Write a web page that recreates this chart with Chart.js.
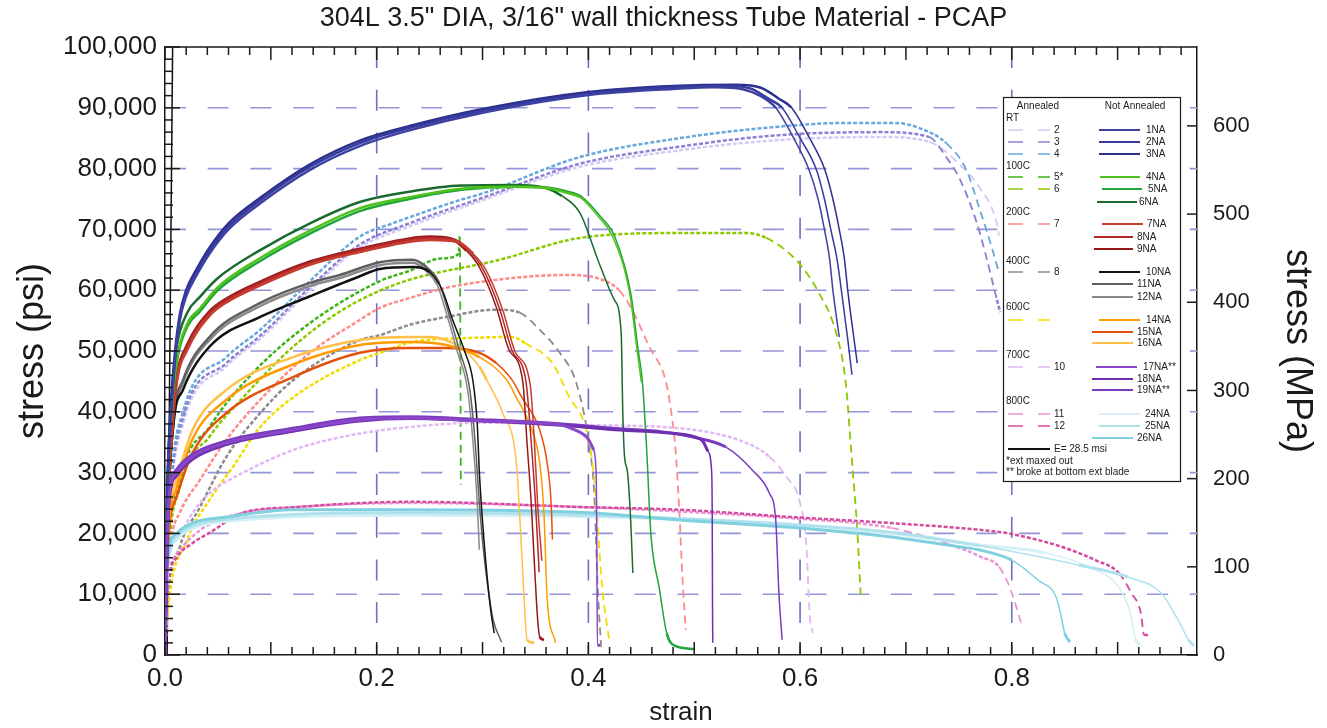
<!DOCTYPE html>
<html>
<head>
<meta charset="utf-8">
<title>304L tube material - PCAP</title>
<script src="https://cdn.jsdelivr.net/npm/chart.js@4.4.1/dist/chart.umd.min.js"></script>
<style>
  html, body { margin: 0; padding: 0; background: #fff; }
  canvas { display: block; }
</style>
</head>
<body>
<canvas id="grafico" width="1327" height="728"></canvas>
<script>
// textos
const chartTitle = '304L 3.5" DIA, 3/16" wall thickness Tube Material - PCAP';
const groupNames = ['RT', '100C', '200C', '400C', '600C', '700C', '800C'];
const noteLines = ['*ext maxed out', '** broke at bottom ext blade'];
const modulusLabel = 'E= 28.5 msi';

// curvas: deformacion (in/in) y esfuerzo (psi)
// --- not annealed ---
const strain1NA = [0, 0.002, 0.005, 0.009, 0.014, 0.02, 0.03, 0.042, 0.06, 0.09, 0.137, 0.184, 0.231, 0.3, 0.4, 0.48, 0.52, 0.545, 0.562, 0.577, 0.594, 0.608, 0.617, 0.623, 0.628, 0.631, 0.637];
const stress1NA = [0, 24000, 37000, 47500, 55000, 59000, 62500, 66000, 70000, 74300, 79800, 83700, 86300, 89200, 92100, 93100, 93400, 93100, 92000, 90000, 85000, 80000, 75000, 70000, 65000, 60000, 52300];
const strain2NA = [0, 0.002, 0.005, 0.009, 0.014, 0.02, 0.03, 0.042, 0.06, 0.09, 0.137, 0.184, 0.231, 0.3, 0.4, 0.48, 0.53, 0.553, 0.57, 0.583, 0.6, 0.615, 0.623, 0.629, 0.635, 0.639, 0.645, 0.649];
const stress2NA = [0, 25000, 38000, 48000, 55500, 59500, 63000, 66500, 70500, 74800, 80300, 84200, 86700, 89500, 92300, 93400, 93600, 93200, 91500, 90000, 85000, 80000, 75000, 70000, 65000, 60000, 52000, 46100];
const strain3NA = [0, 0.002, 0.005, 0.009, 0.014, 0.02, 0.03, 0.042, 0.06, 0.09, 0.137, 0.184, 0.231, 0.3, 0.4, 0.48, 0.54, 0.563, 0.58, 0.592, 0.609, 0.623, 0.631, 0.637, 0.642, 0.645, 0.654];
const stress3NA = [0, 26000, 39000, 49000, 56000, 60000, 63500, 67000, 71000, 75200, 80700, 84600, 87000, 89800, 92600, 93600, 93800, 93300, 91500, 90000, 85000, 80000, 75000, 70000, 65000, 60000, 48000];

const strain4NA = [0, 0.002, 0.006, 0.011, 0.021, 0.033, 0.05, 0.09, 0.137, 0.184, 0.231, 0.28, 0.33, 0.36, 0.38, 0.392, 0.41, 0.423, 0.439, 0.446, 0.45];
const stress4NA = [0, 24000, 40000, 48500, 54500, 57000, 60500, 65300, 69800, 73500, 75300, 76700, 77000, 76800, 76000, 75300, 72000, 68800, 59500, 50200, 44900];
const strain5NA = [0, 0.002, 0.006, 0.011, 0.021, 0.033, 0.05, 0.09, 0.137, 0.184, 0.231, 0.28, 0.33, 0.36, 0.38, 0.394, 0.412, 0.425, 0.44, 0.447, 0.451, 0.455, 0.459, 0.467, 0.474, 0.482, 0.5];
const stress5NA = [0, 23500, 39500, 48000, 54000, 56500, 60000, 64800, 69300, 73000, 75000, 76500, 77000, 76900, 76200, 75300, 72000, 68800, 59500, 50200, 45000, 34000, 20000, 11000, 3600, 1500, 1000];
const strain6NA = [0, 0.002, 0.006, 0.011, 0.021, 0.033, 0.05, 0.09, 0.137, 0.184, 0.231, 0.28, 0.33, 0.36, 0.375, 0.392, 0.41, 0.4245, 0.431, 0.4325, 0.434, 0.437, 0.44, 0.442];
const stress6NA = [0, 25000, 42400, 50700, 56300, 58900, 62000, 66600, 71000, 74500, 76200, 77200, 77300, 76800, 75500, 72700, 64500, 58400, 53000, 40000, 33000, 30000, 22000, 13500];

const strain7NA = [0, 0.002, 0.0066, 0.011, 0.021, 0.042, 0.058, 0.09, 0.137, 0.184, 0.231, 0.25, 0.276, 0.291, 0.303, 0.319, 0.331, 0.345, 0.349, 0.352, 0.356];
const stress7NA = [0, 20000, 36500, 44800, 50200, 55800, 58000, 60800, 64200, 66300, 68000, 68300, 68000, 66000, 63400, 56800, 49800, 44500, 35000, 25000, 15500];
const strain8NA = [0, 0.002, 0.0066, 0.011, 0.021, 0.042, 0.058, 0.09, 0.137, 0.184, 0.231, 0.25, 0.273, 0.288, 0.3, 0.316, 0.328, 0.341, 0.346, 0.35, 0.3535];
const stress8NA = [0, 20500, 37000, 45200, 50700, 56300, 58400, 61200, 64500, 66600, 68300, 68600, 68300, 66300, 63600, 57000, 50000, 45000, 35000, 25000, 13600];
const strain9NA = [0, 0.002, 0.0066, 0.011, 0.021, 0.042, 0.058, 0.09, 0.137, 0.184, 0.231, 0.25, 0.27, 0.285, 0.297, 0.313, 0.325, 0.338, 0.342, 0.346, 0.349, 0.352, 0.354, 0.358];
const stress9NA = [0, 21000, 37500, 45500, 51000, 56500, 58600, 61400, 64700, 66800, 68500, 68800, 68500, 66500, 63800, 57200, 50200, 45000, 35000, 25000, 15000, 6000, 3000, 2500];

const strain10NA = [0, 0.002, 0.008, 0.017, 0.042, 0.09, 0.137, 0.184, 0.203, 0.234, 0.25, 0.262, 0.272, 0.283, 0.291, 0.295, 0.297, 0.3, 0.304, 0.308, 0.311];
const stress10NA = [0, 20000, 38000, 43600, 50700, 55600, 59000, 62300, 63500, 63800, 63000, 60000, 55000, 50000, 45000, 38000, 30000, 22000, 13500, 7000, 3600];
const strain11NA = [0, 0.002, 0.008, 0.017, 0.042, 0.09, 0.137, 0.165, 0.203, 0.234, 0.25, 0.259, 0.269, 0.278, 0.288, 0.293, 0.297, 0.301, 0.306, 0.31, 0.318];
const stress11NA = [0, 20000, 38700, 45200, 52300, 57900, 61200, 62500, 64600, 65000, 63300, 61200, 55600, 50200, 43600, 35000, 25000, 17000, 10000, 5800, 2100];
const strain12NA = [0, 0.002, 0.008, 0.017, 0.042, 0.09, 0.137, 0.165, 0.203, 0.234, 0.248, 0.257, 0.267, 0.276, 0.286, 0.291, 0.295, 0.297];
const stress12NA = [0, 19500, 38000, 44700, 51800, 57400, 60700, 62000, 64100, 64500, 63000, 61000, 55500, 50000, 43500, 35000, 25000, 17300];

const strain14NA = [0, 0.002, 0.011, 0.026, 0.058, 0.121, 0.184, 0.231, 0.266, 0.297, 0.323, 0.333, 0.344, 0.354, 0.358, 0.361, 0.369];
const stress14NA = [0, 17000, 27500, 35500, 42000, 47800, 51000, 51500, 51000, 49000, 45200, 42000, 38200, 31600, 23400, 9500, 2000];
const strain15NA = [0, 0.002, 0.011, 0.026, 0.058, 0.121, 0.184, 0.231, 0.266, 0.297, 0.313, 0.328, 0.337, 0.354, 0.361, 0.365, 0.366];
const stress15NA = [0, 16000, 26000, 33200, 39800, 45700, 49700, 50500, 50500, 49700, 48000, 45200, 42400, 37000, 31600, 24300, 19000];
const strain16NA = [0, 0.002, 0.011, 0.026, 0.058, 0.121, 0.184, 0.231, 0.25, 0.278, 0.297, 0.304, 0.319, 0.332, 0.335, 0.339, 0.342, 0.349];
const stress16NA = [0, 18000, 28800, 37000, 43600, 49000, 51800, 52300, 52300, 50700, 47400, 45200, 39800, 31600, 23400, 10200, 2500, 2000];

const strain17NA = [0, 0.002, 0.004, 0.011, 0.026, 0.058, 0.121, 0.184, 0.231, 0.3, 0.375, 0.385, 0.398, 0.405, 0.4075, 0.408, 0.4085, 0.411];
const stress17NA = [0, 18000, 26000, 30000, 32600, 34900, 37000, 38700, 39000, 38500, 37800, 37200, 35900, 33700, 29000, 18000, 1600, 1600];
const strain18NA = [0, 0.002, 0.004, 0.011, 0.026, 0.058, 0.121, 0.184, 0.231, 0.3, 0.375, 0.43, 0.47, 0.5, 0.508, 0.513, 0.5165, 0.517, 0.5173, 0.5176];
const stress18NA = [0, 17500, 25500, 29500, 32200, 34600, 36800, 38500, 38900, 38500, 37800, 37000, 36600, 35900, 35200, 33500, 30000, 23000, 7000, 2000];
const strain19NA = [0, 0.002, 0.004, 0.011, 0.026, 0.058, 0.121, 0.184, 0.231, 0.3, 0.375, 0.43, 0.47, 0.5, 0.53, 0.555, 0.571, 0.577, 0.58, 0.583];
const stress19NA = [0, 18500, 26500, 30500, 33000, 35200, 37300, 39000, 39200, 38700, 38000, 37200, 36700, 35800, 34200, 30400, 26600, 22200, 10200, 2500];

const strain24NA = [0, 0.002, 0.011, 0.026, 0.058, 0.231, 0.4, 0.591, 0.686, 0.769, 0.832, 0.879, 0.901, 0.912, 0.917, 0.921];
const stress24NA = [0, 13000, 19000, 20800, 22000, 23000, 22800, 21300, 20000, 18100, 16800, 14000, 11200, 6900, 2500, 1700];
const strain25NA = [0, 0.002, 0.011, 0.026, 0.058, 0.231, 0.4, 0.591, 0.686, 0.769, 0.863, 0.91, 0.941, 0.957, 0.967, 0.972];
const stress25NA = [0, 13500, 19500, 21200, 22300, 23400, 23000, 21500, 20200, 18000, 14800, 12800, 10200, 5800, 2500, 1500];
const strain26NA = [0, 0.002, 0.003, 0.011, 0.026, 0.058, 0.121, 0.231, 0.4, 0.486, 0.591, 0.686, 0.75, 0.769, 0.8, 0.825, 0.842, 0.846, 0.85, 0.855];
const stress26NA = [0, 14000, 16800, 20000, 21700, 22700, 23900, 23900, 23400, 22200, 21000, 19400, 17800, 17300, 15600, 12300, 9500, 6900, 3600, 2100];

// --- annealed ---
const strain2 = [0, 0.002, 0.005, 0.017, 0.058, 0.09, 0.134, 0.184, 0.231, 0.3, 0.392, 0.486, 0.58, 0.675, 0.722, 0.753, 0.769, 0.785, 0.788];
const stress2 = [0, 14000, 25000, 38000, 47500, 52000, 59500, 67000, 70500, 74800, 80300, 83000, 84700, 85200, 84400, 80300, 77000, 71600, 69000];
const strain3 = [0, 0.002, 0.005, 0.017, 0.058, 0.09, 0.134, 0.184, 0.231, 0.3, 0.392, 0.486, 0.58, 0.675, 0.722, 0.738, 0.75, 0.766, 0.775, 0.786, 0.789];
const stress3 = [0, 14500, 26000, 39000, 48000, 52500, 60000, 67500, 71000, 75200, 80800, 83600, 85500, 86000, 85200, 81900, 78600, 71600, 66100, 58400, 56400];
const strain4 = [0, 0.002, 0.005, 0.017, 0.058, 0.09, 0.134, 0.184, 0.215, 0.231, 0.278, 0.3, 0.392, 0.486, 0.58, 0.643, 0.69, 0.712, 0.738, 0.757, 0.769, 0.781, 0.788];
const stress4 = [0, 15000, 27000, 40000, 49000, 53500, 61000, 68800, 71000, 72000, 74800, 75900, 81900, 85000, 86900, 87500, 87500, 86700, 84200, 79800, 73700, 67100, 62800];
const strain5 = [0, 0.002, 0.014, 0.042, 0.083, 0.137, 0.203, 0.231, 0.26, 0.2775, 0.2785, 0.2795];
const stress5 = [0, 12500, 28500, 37500, 46400, 54600, 61500, 63200, 65200, 66000, 68800, 28000];
const strain6 = [0, 0.002, 0.014, 0.042, 0.074, 0.121, 0.168, 0.222, 0.316, 0.392, 0.486, 0.549, 0.568, 0.596, 0.618, 0.634, 0.643, 0.649, 0.654, 0.6575];
const stress6 = [0, 12000, 27600, 35900, 42400, 50700, 56800, 61200, 65000, 68600, 69400, 69400, 68600, 65000, 59500, 53000, 45000, 32000, 20600, 9000];
const strain7 = [0, 0.002, 0.006, 0.014, 0.033, 0.058, 0.09, 0.137, 0.184, 0.203, 0.231, 0.266, 0.328, 0.379, 0.408, 0.429, 0.4415, 0.4575, 0.4736, 0.479, 0.482, 0.486, 0.489, 0.492];
const stress7 = [0, 10000, 18900, 23400, 28800, 35400, 42000, 49700, 55100, 57100, 58700, 60400, 62000, 62500, 62000, 60000, 56700, 50700, 44700, 39000, 34500, 23400, 12300, 4100];
const strain8 = [0, 0.002, 0.014, 0.033, 0.058, 0.09, 0.121, 0.184, 0.203, 0.231, 0.266, 0.313, 0.335, 0.354, 0.373, 0.389, 0.401, 0.4057, 0.4085, 0.412];
const stress8 = [0, 8000, 17800, 24300, 32600, 39800, 45200, 51800, 52600, 54300, 55600, 56800, 56300, 53500, 49700, 44500, 34200, 26000, 12300, 1300];
const strain600C = [0, 0.002, 0.021, 0.042, 0.064, 0.09, 0.127, 0.184, 0.203, 0.234, 0.281, 0.328, 0.34, 0.366, 0.382, 0.398, 0.4057, 0.413, 0.42];
const stress600C = [0, 6000, 18900, 25500, 30900, 37500, 43100, 48500, 49700, 51500, 52100, 52300, 51300, 48000, 42400, 37000, 28800, 11200, 2000];
const strain10 = [0, 0.002, 0.003, 0.011, 0.026, 0.042, 0.074, 0.121, 0.168, 0.231, 0.3, 0.4, 0.486, 0.549, 0.571, 0.587, 0.6, 0.606, 0.609, 0.612];
const stress10 = [0, 12000, 16000, 18900, 23400, 26600, 30000, 33700, 35900, 37500, 38200, 37800, 37300, 34900, 32600, 29300, 25000, 17800, 6900, 3600];
const strain11 = [0, 0.002, 0.011, 0.026, 0.042, 0.074, 0.121, 0.231, 0.4, 0.486, 0.591, 0.686, 0.748, 0.77, 0.788, 0.799, 0.81];
const stress11 = [0, 10500, 16500, 19500, 21500, 23400, 24300, 25000, 24300, 23600, 22500, 20900, 17800, 16200, 14500, 10700, 4600];
const strain12 = [0, 0.002, 0.011, 0.026, 0.042, 0.074, 0.121, 0.231, 0.4, 0.486, 0.591, 0.686, 0.78, 0.8, 0.847, 0.879, 0.901, 0.913, 0.922, 0.925, 0.93];
const stress12 = [0, 10000, 16000, 18400, 20100, 23400, 24300, 25200, 24300, 23900, 22700, 21700, 20400, 19900, 17800, 15600, 13500, 10200, 6900, 3300, 3300];

// recta del modulo elastico
const strainE = [0.002, 0.0072];
const stressE = [0, 100000];

const PSI_PER_MPA = 145.038;

function puntos(xs, ys) {
    return xs.map((x, i) => ({ x: x, y: ys[i] }));
}

// estilo de cada curva (el indice 0 se dibuja encima)
const series = [
    { key: '17NA**', x: strain17NA, y: stress17NA, color: '#8a46c8', width: 3 },
    { key: '18NA', x: strain18NA, y: stress18NA, color: '#6f30b0', width: 3 },
    { key: '19NA**', x: strain19NA, y: stress19NA, color: '#7a3cbe', width: 3 },
    { key: '1NA', x: strain1NA, y: stress1NA, color: '#3d41a2', width: 2.5 },
    { key: '2NA', x: strain2NA, y: stress2NA, color: '#363a9c', width: 2.5 },
    { key: '3NA', x: strain3NA, y: stress3NA, color: '#2c308e', width: 2.5 },
    { key: '4NA', x: strain4NA, y: stress4NA, color: '#4cc21a', width: 2.5 },
    { key: '5NA', x: strain5NA, y: stress5NA, color: '#1fa53a', width: 2.5 },
    { key: '6NA', x: strain6NA, y: stress6NA, color: '#1b6b30', width: 2.5 },
    { key: '7NA', x: strain7NA, y: stress7NA, color: '#c63c2e', width: 2.8 },
    { key: '8NA', x: strain8NA, y: stress8NA, color: '#b02828', width: 2.8 },
    { key: '9NA', x: strain9NA, y: stress9NA, color: '#951818', width: 2.8 },
    { key: '10NA', x: strain10NA, y: stress10NA, color: '#111111', width: 2.5 },
    { key: '11NA', x: strain11NA, y: stress11NA, color: '#5f5f5f', width: 2.5 },
    { key: '12NA', x: strain12NA, y: stress12NA, color: '#8a8a8a', width: 2.5 },
    { key: '14NA', x: strain14NA, y: stress14NA, color: '#ff9a00', width: 2.5 },
    { key: '15NA', x: strain15NA, y: stress15NA, color: '#e4510c', width: 2.5 },
    { key: '16NA', x: strain16NA, y: stress16NA, color: '#ffbf48', width: 2.5 },
    { key: '26NA', x: strain26NA, y: stress26NA, color: '#80d0e0', width: 3 },
    { key: '25NA', x: strain25NA, y: stress25NA, color: '#b0e2ee', width: 3 },
    { key: '24NA', x: strain24NA, y: stress24NA, color: '#d4eff6', width: 3 },
    { key: '12', x: strain12, y: stress12, color: '#d44a9c', width: 2.5, annealed: true },
    { key: '11', x: strain11, y: stress11, color: '#ea94d2', width: 2.5, annealed: true },
    { key: '10', x: strain10, y: stress10, color: '#e2b8f2', width: 2.5, annealed: true },
    { key: '600C', x: strain600C, y: stress600C, color: '#f2dc00', width: 2.5, annealed: true },
    { key: '8', x: strain8, y: stress8, color: '#8c8c8c', width: 2.5, annealed: true },
    { key: '7', x: strain7, y: stress7, color: '#ff8a8a', width: 2.5, annealed: true },
    { key: '6', x: strain6, y: stress6, color: '#8cc800', width: 2.5, annealed: true },
    { key: '5*', x: strain5, y: stress5, color: '#3cb41c', width: 2.5, annealed: true },
    { key: '4', x: strain4, y: stress4, color: '#68a8da', width: 2.5, annealed: true },
    { key: '3', x: strain3, y: stress3, color: '#8d7fd3', width: 2.5, annealed: true },
    { key: '2', x: strain2, y: stress2, color: '#d3c9f3', width: 2.5, annealed: true },
    { key: 'E', x: strainE, y: stressE, color: '#111111', width: 1.5 }
];

// tramo de caida (rotura): linea mas fina
function cae(c) {
    return c.p0.parsed.x > 0.12 && (c.p0.parsed.y - c.p1.parsed.y) > 2500;
}

const datasets = series.map(s => ({
    label: s.key === '600C' ? '' : s.key,
    key: s.key,
    annealed: !!s.annealed,
    data: puntos(s.x, s.y),
    borderColor: s.color,
    borderWidth: s.width,
    borderDash: s.annealed ? [4, 2] : [],
    pointRadius: 0,
    fill: false,
    cubicInterpolationMode: 'monotone',
    segment: {
        borderWidth: c => cae(c) ? (s.annealed ? 1.8 : 1.5) : undefined,
        borderDash: c => (s.annealed && cae(c)) ? [8, 5] : undefined
    }
}));

// posiciones de la leyenda (px del lienzo)
const legendBox = { left: 1003, top: 97, right: 1180, bottom: 481 };
const groupRowY = [118, 166, 212, 261, 307, 355, 401];
const annealedRowY = { '2': 130, '3': 142, '4': 154, '5*': 177, '6': 189, '7': 224, '8': 272, '600C': 320, '10': 367, '11': 414, '12': 426 };
const naRow = {
    '1NA': [130, 1099, 1140, 1146], '2NA': [142, 1099, 1140, 1146], '3NA': [154, 1099, 1140, 1146],
    '4NA': [177, 1100, 1140, 1146], '5NA': [189, 1102, 1142, 1148], '6NA': [202, 1097, 1137, 1139],
    '7NA': [224, 1102, 1143, 1147], '8NA': [237, 1094, 1133, 1137], '9NA': [249, 1094, 1133, 1137],
    '10NA': [272, 1099, 1140, 1146], '11NA': [284, 1092, 1133, 1137], '12NA': [297, 1092, 1133, 1137],
    '14NA': [320, 1099, 1140, 1146], '15NA': [332, 1092, 1133, 1137], '16NA': [343, 1092, 1133, 1137],
    '17NA**': [367, 1096, 1137, 1143], '18NA': [379, 1092, 1133, 1137], '19NA**': [390, 1092, 1133, 1137],
    '24NA': [414, 1099, 1140, 1145], '25NA': [426, 1099, 1140, 1145], '26NA': [438, 1092, 1133, 1137]
};

const fuente = '"Liberation Sans", Arial, sans-serif';
Chart.defaults.font.family = fuente;
Chart.defaults.color = '#1a1a1a';

function linea(ctx, x1, y1, x2, y2) {
    ctx.beginPath();
    ctx.moveTo(x1, y1);
    ctx.lineTo(x2, y2);
    ctx.stroke();
}

// rejilla discontinua, marcas hacia dentro y marco superior
const marcos = {
    id: 'marcos',
    beforeDatasetsDraw(chart) {
        const { ctx, chartArea: a, scales: { x, y } } = chart;
        ctx.save();
        ctx.lineWidth = 1.6;
        ctx.setLineDash([21, 21.7]);
        ctx.strokeStyle = '#9494d8';
        y.ticks.forEach(t => {
            if (t.value <= 0 || t.value >= y.max) return;
            const py = y.getPixelForValue(t.value);
            linea(ctx, a.left, py, a.right, py);
        });
        ctx.strokeStyle = '#6e6ec6';
        x.ticks.forEach(t => {
            if (t.value <= 0) return;
            const px = x.getPixelForValue(t.value);
            linea(ctx, px, a.top, px, a.bottom);
        });
        ctx.restore();
    },
    afterDatasetsDraw(chart) {
        const { ctx, chartArea: a, scales: { x, y, y2 } } = chart;
        ctx.save();
        ctx.strokeStyle = '#1a1a1a';
        ctx.lineWidth = 1.5;
        linea(ctx, a.left, a.top, a.right, a.top);
        // eje x: abajo y arriba
        for (let i = 0; i * 0.02 <= x.max + 1e-9; i++) {
            const px = x.getPixelForValue(i * 0.02);
            const len = i % 5 === 0 ? 13 : 8;
            linea(ctx, px, a.bottom, px, a.bottom - len);
            linea(ctx, px, a.top, px, a.top + len);
        }
        // eje psi
        for (let v = 0; v <= y.max; v += 2000) {
            const py = y.getPixelForValue(v);
            linea(ctx, a.left, py, a.left + (v % 10000 === 0 ? 15 : 8), py);
        }
        // eje MPa
        y2.ticks.forEach(t => {
            const py = y2.getPixelForValue(t.value);
            linea(ctx, a.right, py, a.right - 10, py);
        });
        ctx.restore();
    }
};

const leyenda = {
    id: 'leyenda',
    afterDraw(chart) {
        const ctx = chart.ctx;
        const b = legendBox;
        ctx.save();
        ctx.fillStyle = '#ffffff';
        ctx.fillRect(b.left, b.top, b.right - b.left, b.bottom - b.top);
        ctx.strokeStyle = '#1a1a1a';
        ctx.lineWidth = 1.2;
        ctx.strokeRect(b.left + 0.5, b.top + 0.5, b.right - b.left, b.bottom - b.top);

        ctx.font = '10px ' + fuente;
        ctx.fillStyle = '#222';
        ctx.textBaseline = 'middle';
        ctx.textAlign = 'center';
        ctx.fillText('Annealed', 1038, 106);
        ctx.fillText('Not Annealed', 1135, 106);
        ctx.textAlign = 'left';
        groupNames.forEach((g, i) => ctx.fillText(g, 1006, groupRowY[i]));

        chart.data.datasets.forEach(ds => {
            const ay = annealedRowY[ds.key];
            if (ay !== undefined) {
                ctx.strokeStyle = ds.borderColor;
                ctx.lineWidth = 1.5;
                linea(ctx, 1008, ay, 1023, ay);
                linea(ctx, 1038, ay, 1050, ay);
                ctx.fillStyle = '#222';
                ctx.fillText(ds.label, 1054, ay);
            }
            const n = naRow[ds.key];
            if (n) {
                ctx.strokeStyle = ds.borderColor;
                ctx.lineWidth = 1.8;
                linea(ctx, n[1], n[0], n[2], n[0]);
                ctx.fillStyle = '#222';
                ctx.fillText(ds.label, n[3], n[0]);
            }
        });
        ctx.strokeStyle = '#111';
        ctx.lineWidth = 2;
        linea(ctx, 1008, 449, 1050, 449);
        ctx.fillStyle = '#222';
        ctx.fillText(modulusLabel, 1054, 449);
        ctx.fillText(noteLines[0], 1006, 461);
        ctx.fillText(noteLines[1], 1006, 472);
        ctx.restore();
    }
};

const ctx = document.getElementById('grafico').getContext('2d');
const grafico = new Chart(ctx, {
    type: 'line',
    data: { datasets: datasets },
    plugins: [marcos, leyenda],
    options: {
        responsive: false,
        animation: false,
        events: [],
        layout: { padding: 0 },
        plugins: {
            legend: { display: false },
            tooltip: { enabled: false },
            title: {
                display: true,
                text: chartTitle,
                color: '#1a1a1a',
                font: { size: 27, weight: 'normal' },
                padding: { top: 2, bottom: 12.6 }
            }
        },
        scales: {
            x: {
                type: 'linear',
                position: 'bottom',
                min: 0,
                max: 0.975,
                ticks: {
                    stepSize: 0.2,
                    includeBounds: false,
                    maxRotation: 0,
                    padding: 8,
                    font: { size: 26 },
                    callback: v => v.toFixed(1)
                },
                grid: { display: false, drawTicks: false },
                border: { display: true, color: '#1a1a1a', width: 1.5 },
                title: { display: true, text: 'strain', font: { size: 26 }, padding: { top: 0, bottom: 0 } },
                afterFit: s => { s.height = 73; }
            },
            y: {
                type: 'linear',
                position: 'left',
                min: 0,
                max: 100000,
                ticks: {
                    stepSize: 10000,
                    padding: 8,
                    font: { size: 26 },
                    callback: v => v.toLocaleString('en-US')
                },
                grid: { display: false, drawTicks: false },
                border: { display: true, color: '#1a1a1a', width: 1.5 },
                title: { display: true, text: 'stress (psi)', font: { size: 36 }, padding: { top: 11 } },
                afterFit: s => { s.width = 165; }
            },
            y2: {
                type: 'linear',
                position: 'right',
                min: 0,
                max: 100000 / PSI_PER_MPA,
                ticks: {
                    stepSize: 100,
                    includeBounds: false,
                    padding: 16,
                    font: { size: 22 }
                },
                grid: { display: false, drawTicks: false },
                border: { display: true, color: '#1a1a1a', width: 1.5 },
                title: { display: true, text: 'stress (MPa)', font: { size: 36 }, padding: { top: 8 } },
                afterFit: s => { s.width = 130; }
            }
        }
    }
});
</script>
</body>
</html>
